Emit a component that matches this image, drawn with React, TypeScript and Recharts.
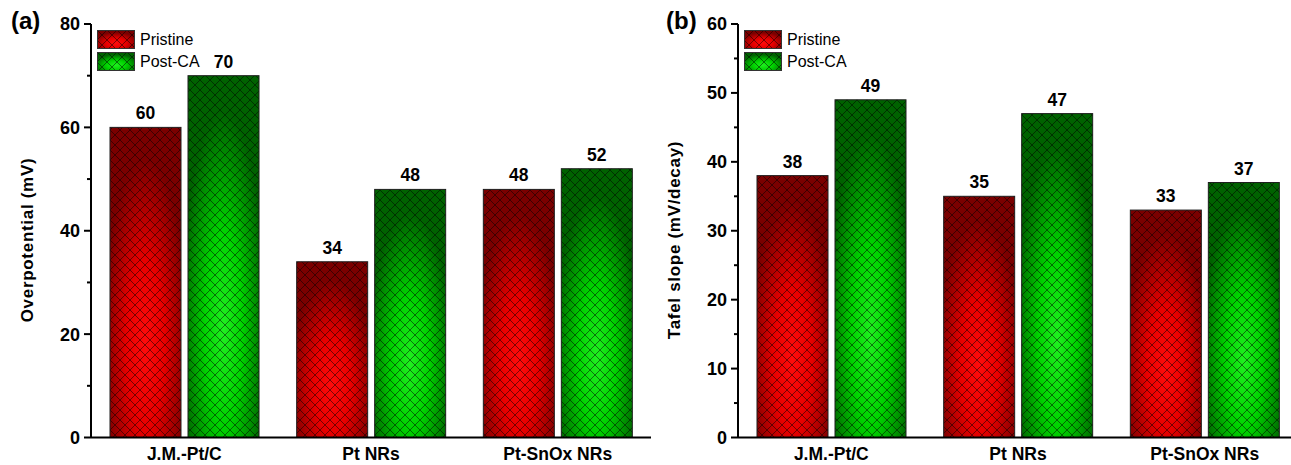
import React from "react";
import {
  BarChart, Bar, XAxis, YAxis, LabelList, Legend,
} from "recharts";

const CATEGORIES = ["J.M.-Pt/C", "Pt NRs", "Pt-SnOx NRs"];
const OVERPOT_PRISTINE = [60, 34, 48];
const OVERPOT_POSTCA = [70, 48, 52];
const TAFEL_PRISTINE = [38, 35, 33];
const TAFEL_POSTCA = [49, 47, 37];
const OVERPOT_TICKS = [0, 10, 20, 30, 40, 50, 60, 70, 80];
const TAFEL_TICKS = [0, 5, 10, 15, 20, 25, 30, 35, 40, 45, 50, 55, 60];
const SERIES_NAMES = ["Pristine", "Post-CA"];

const FONT = "'Liberation Sans', Arial, sans-serif";
const AXIS_X = 91; // local x of the left axis line in each chart

function GradDefs({ id }: { id: string }) {
  return (
    <defs>
      <radialGradient id={`${id}-red`} cx="0.5" cy="0.7" r="0.6">
        <stop offset="0%" stopColor="#ff0c0c" />
        <stop offset="45%" stopColor="#e80000" />
        <stop offset="100%" stopColor="#7a0000" />
      </radialGradient>
      <radialGradient id={`${id}-green`} cx="0.5" cy="0.7" r="0.6">
        <stop offset="0%" stopColor="#20f020" />
        <stop offset="45%" stopColor="#00d200" />
        <stop offset="100%" stopColor="#006200" />
      </radialGradient>
      <pattern id={`${id}-hatch`} patternUnits="userSpaceOnUse" width="10" height="10">
        <path d="M0,0 L10,10 M10,0 L0,10" stroke="rgba(0,0,0,0.5)" strokeWidth="1" />
      </pattern>
    </defs>
  );
}

const hatchedBar = (id: string, color: string) => (props: any) => {
  const { x, y, width, height } = props;
  if (!height || height <= 0) return <g />;
  return (
    <g>
      <rect x={x} y={y} width={width} height={height} fill={`url(#${id}-${color})`} />
      <rect x={x} y={y} width={width} height={height} fill={`url(#${id}-hatch)`} />
      <rect x={x} y={y} width={width} height={height} fill="none" stroke="#1e1e1e" strokeWidth={1} />
    </g>
  );
};

const yTick = (major: number) => (props: any) => {
  const { y, payload } = props;
  const v = payload.value as number;
  const isMajor = v % major === 0;
  return (
    <g>
      <line x1={AXIS_X - (isMajor ? 7 : 4)} x2={AXIS_X} y1={y} y2={y} stroke="#000" strokeWidth={2} />
      {isMajor && (
        <text x={AXIS_X - 11} y={y} dy="0.36em" textAnchor="end" fontFamily={FONT}
          fontWeight="bold" fontSize={18} fill="#000">
          {v}
        </text>
      )}
    </g>
  );
};

const xTick = (props: any) => (
  <text x={props.x} y={454} dy="0.36em" textAnchor="middle" fontFamily={FONT}
    fontWeight="bold" fontSize={17.5} fill="#000">
    {props.payload.value}
  </text>
);

function LegendBox({ id }: { id: string }) {
  return (
    <div style={{ fontFamily: FONT, fontSize: 16, color: "#000", lineHeight: "18px" }}>
      {["red", "green"].map((c, i) => (
        <div key={c} style={{ display: "flex", alignItems: "center", marginBottom: 3 }}>
          <svg width={38} height={19} style={{ display: "block" }}>
            <GradDefs id={`${id}-lg`} />
            <rect x={0.5} y={0.5} width={37} height={18} fill={`url(#${id}-lg-${c})`} />
            <rect x={0.5} y={0.5} width={37} height={18} fill={`url(#${id}-lg-hatch)`} />
            <rect x={0.5} y={0.5} width={37} height={18} fill="none" stroke="#333" strokeWidth={1} />
          </svg>
          <span style={{ marginLeft: 5 }}>{SERIES_NAMES[i]}</span>
        </div>
      ))}
    </div>
  );
}

function AxisTitle({ text, cx, cy }: { text: string; cx: number; cy: number }) {
  return (
    <text x={cx} y={cy} transform={`rotate(-90 ${cx} ${cy})`} textAnchor="middle" dy="0.36em"
      fontFamily={FONT} fontWeight="bold" fontSize={17} letterSpacing={0.7} fill="#000">
      {text}
    </text>
  );
}

function Panel({ id, pristine, postCA, ticks, major, max, title, left, tag, tagX }: {
  id: string; pristine: number[]; postCA: number[]; ticks: number[]; major: number;
  max: number; title: string; left: number; tag: string; tagX: number;
}) {
  const rows = CATEGORIES.map((name, i) => ({ name, pristine: pristine[i], postCA: postCA[i] }));
  const labelStyle = { fontFamily: FONT, fontWeight: "bold", fontSize: 17.5, fill: "#000" };
  return (
    <div style={{ position: "absolute", left, top: 0 }}>
      <div style={{ position: "absolute", left: tagX, top: 7, fontFamily: FONT, fontWeight: "bold", fontSize: 24 }}>
        {tag}
      </div>
      <BarChart width={660} height={465} data={rows} barGap={7} barSize={71}
        margin={{ top: 24, right: 9, bottom: 0, left: 0 }}>
        <GradDefs id={id} />
        <XAxis dataKey="name" height={27.5} axisLine={{ stroke: "#000", strokeWidth: 2 }}
          tickLine={false} tick={xTick} interval={0} />
        <XAxis xAxisId="top" orientation="top" dataKey="name" height={0} tick={false}
          tickLine={false} axisLine={{ stroke: "#000", strokeWidth: 2 }} />
        <YAxis width={AXIS_X} domain={[0, max]} ticks={ticks} interval={0} tickLine={false}
          axisLine={{ stroke: "#000", strokeWidth: 2 }} tick={yTick(major)}
          label={{ content: () => <AxisTitle text={title} cx={27} cy={240} /> }} />
        <YAxis yAxisId="right" orientation="right" width={0} domain={[0, max]} tick={false}
          tickLine={false} axisLine={{ stroke: "#000", strokeWidth: 2 }} />
        <Legend layout="horizontal" verticalAlign="middle" align="center"
          wrapperStyle={{ left: 97, top: 30, width: 150, height: 42 }}
          content={() => <LegendBox id={id} />} />
        <Bar dataKey="pristine" name="Pristine" isAnimationActive={false} shape={hatchedBar(id, "red")}>
          <LabelList dataKey="pristine" position="top" offset={8} style={labelStyle} />
        </Bar>
        <Bar dataKey="postCA" name="Post-CA" isAnimationActive={false} shape={hatchedBar(id, "green")}>
          <LabelList dataKey="postCA" position="top" offset={8} style={labelStyle} />
        </Bar>
      </BarChart>
    </div>
  );
}

export default function App() {
  return (
    <div style={{ position: "fixed", left: 0, top: 0, width: 1291, height: 465, overflow: "hidden", background: "#fff" }}>
      <Panel id="a" pristine={OVERPOT_PRISTINE} postCA={OVERPOT_POSTCA} ticks={OVERPOT_TICKS}
        major={20} max={80} title="Overpotential (mV)" left={0} tag="(a)" tagX={11} />
      <Panel id="b" pristine={TAFEL_PRISTINE} postCA={TAFEL_POSTCA} ticks={TAFEL_TICKS}
        major={10} max={60} title="Tafel slope (mV/decay)" left={647} tag="(b)" tagX={19} />
    </div>
  );
}
